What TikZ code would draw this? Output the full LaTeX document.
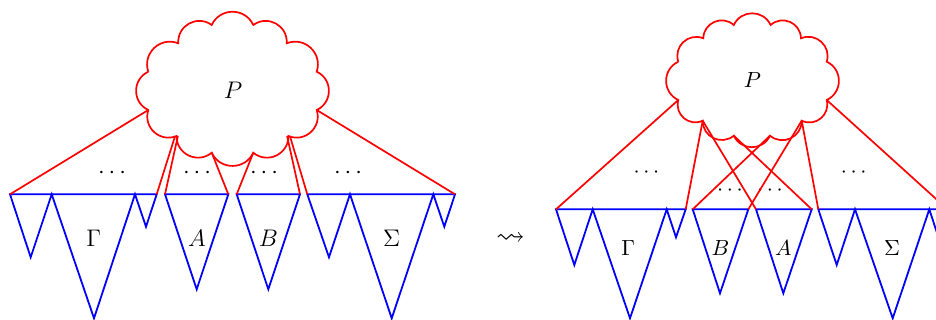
\documentclass[tikz,border=0pt]{standalone}
\usepackage{amsmath,amssymb}
\usepackage{tikz}
\usetikzlibrary{calc}

\begin{document}
\begin{tikzpicture}[
  x=0.5pt, y=-0.5pt,
  tree/.style={draw=blue, line width=0.9pt},
  ctx/.style={draw=red, line width=0.85pt},
  puff/.style={bend left=65, looseness=1.2},
  biglab/.style={inner sep=0pt, font=\fontsize{12.2}{14}\selectfont},
  smalllab/.style={inner sep=0pt, font=\fontsize{10.7}{13}\selectfont}
]
\useasboundingbox (0,0) rectangle (936,320);
% ----- left: context cloud -----
\foreach \n/\x/\y in {1/148.3/71.7, 2/178.3/43.3, 3/211.7/25, 4/253.3/25,
  5/286.7/43.3, 6/316.7/71.7, 7/316.7/110, 8/288.5/136, 9/253.3/152.7,
  10/211.7/152.7, 11/176.5/136, 12/148.3/110}{\coordinate (lc\n) at (\x,\y);}
\draw[ctx] (lc1) to[puff] (lc2) to[puff] (lc3) to[puff] (lc4) to[puff] (lc5)
  to[puff] (lc6) to[puff] (lc7) to[puff] (lc8) to[puff] (lc9) to[puff] (lc10)
  to[puff] (lc11) to[puff] (lc12) to[puff] (lc1);
\node[biglab] (lP) at (233,90.5) {$P$};
% ----- left: subtrees -----
\draw[tree] (10,194.3) coordinate (lGw) -- (156.7,194.3) coordinate (lGe)
  -- (146,226.7) -- (135,194.3) -- (94,318.3) -- (51.7,194.3) -- (30.7,257.3) -- cycle;
\draw[tree] (165,194.3) coordinate (lAw) -- (228.3,194.3) coordinate (lAe) -- (196.7,289.3) -- cycle;
\draw[tree] (236.7,194.3) coordinate (lBw) -- (300,194.3) coordinate (lBe) -- (268.3,289.3) -- cycle;
\draw[tree] (307.3,194.3) coordinate (lSw) -- (455,194.3) coordinate (lSe)
  -- (444.3,226.7) -- (433.3,194.3) -- (391.7,318.3) -- (350,194.3) -- (329,257.3) -- cycle;
\node[biglab] (lGam) at (93.7,238.3) {$\Gamma$};
\node[biglab] (lA) at (197,238.3) {$A$};
\node[biglab] (lB) at (268.3,238.3) {$B$};
\node[biglab] (lSig) at (391.7,238.3) {$\Sigma$};
\foreach \x in {114,199,266,350}{\node[biglab] at (\x,173) {$\cdots$};}
% ----- left: edges from the cloud -----
\draw[ctx] ([xshift=-0.7pt]lc11) -- (lGe);
\draw[ctx] ([xshift=0.7pt]lc11) -- (lAw);
\draw[ctx] ([xshift=-0.7pt]lc8) -- (lBe);
\draw[ctx] ([xshift=0.7pt]lc8) -- (lSw);
\foreach \a/\b in {lc12/lGw, lc10/lAe, lc9/lBw, lc7/lSe}{\draw[ctx] (\a) -- (\b);}
% ----- middle -----
\node[inner sep=0pt, font=\Large] (step) at (510.5,239) {$\rightsquigarrow$};
% ----- right: context cloud -----
\foreach \n/\x/\y in {1/678.3/61.7, 2/703.3/38.3, 3/733.8/25, 4/770.6/25,
  5/801/38.3, 6/826.7/61.7, 7/826.7/100, 8/801.7/120.7, 9/770/135.7,
  10/733.8/135.7, 11/702.7/120.7, 12/678.3/100}{\coordinate (rc\n) at (\x,\y);}
\draw[ctx] (rc1) to[puff] (rc2) to[puff] (rc3) to[puff] (rc4) to[puff] (rc5)
  to[puff] (rc6) to[puff] (rc7) to[puff] (rc8) to[puff] (rc9) to[puff] (rc10)
  to[puff] (rc11) to[puff] (rc12) to[puff] (rc1);
\node[smalllab] (rP) at (752.3,80) {$P$};
% ----- right: subtrees, A and B swapped -----
\draw[tree] (556,209.3) coordinate (rGw) -- (685.7,209.3) coordinate (rGe)
  -- (676,237.3) -- (666.7,209.3) -- (630,318.3) -- (592.7,209.3) -- (574.3,265) -- cycle;
\draw[tree] (692.7,209.3) coordinate (rBw) -- (748.3,209.3) coordinate (rBe) -- (720,293.3) -- cycle;
\draw[tree] (756,209.3) coordinate (rAw) -- (811.7,209.3) coordinate (rAe) -- (783.3,293.3) -- cycle;
\draw[tree] (818.3,209.3) coordinate (rSw) -- (947.5,209.3) coordinate (rSe)
  -- (938.5,237.5) -- (929.3,209.3) -- (892.7,318.3) -- (855,209.3) -- (836.7,265) -- cycle;
\node[smalllab] (rGam) at (628.3,248) {$\Gamma$};
\node[smalllab] (rB) at (720.5,248) {$B$};
\node[smalllab] (rA) at (783.3,248) {$A$};
\node[smalllab] (rSig) at (892,248) {$\Sigma$};
\foreach \x/\y in {648.3/172.3, 731.7/191, 771.7/191, 855.5/172.3}{\node[smalllab] at (\x,\y) {$\cdots$};}
% ----- right: edges from the cloud -----
\foreach \a/\b in {rc12/rGw, rc11/rGe, rc11/rAw, rc10/rAe, rc9/rBw, rc8/rBe, rc8/rSw, rc7/rSe}{\draw[ctx] (\a) -- (\b);}
\end{tikzpicture}
\end{document}
